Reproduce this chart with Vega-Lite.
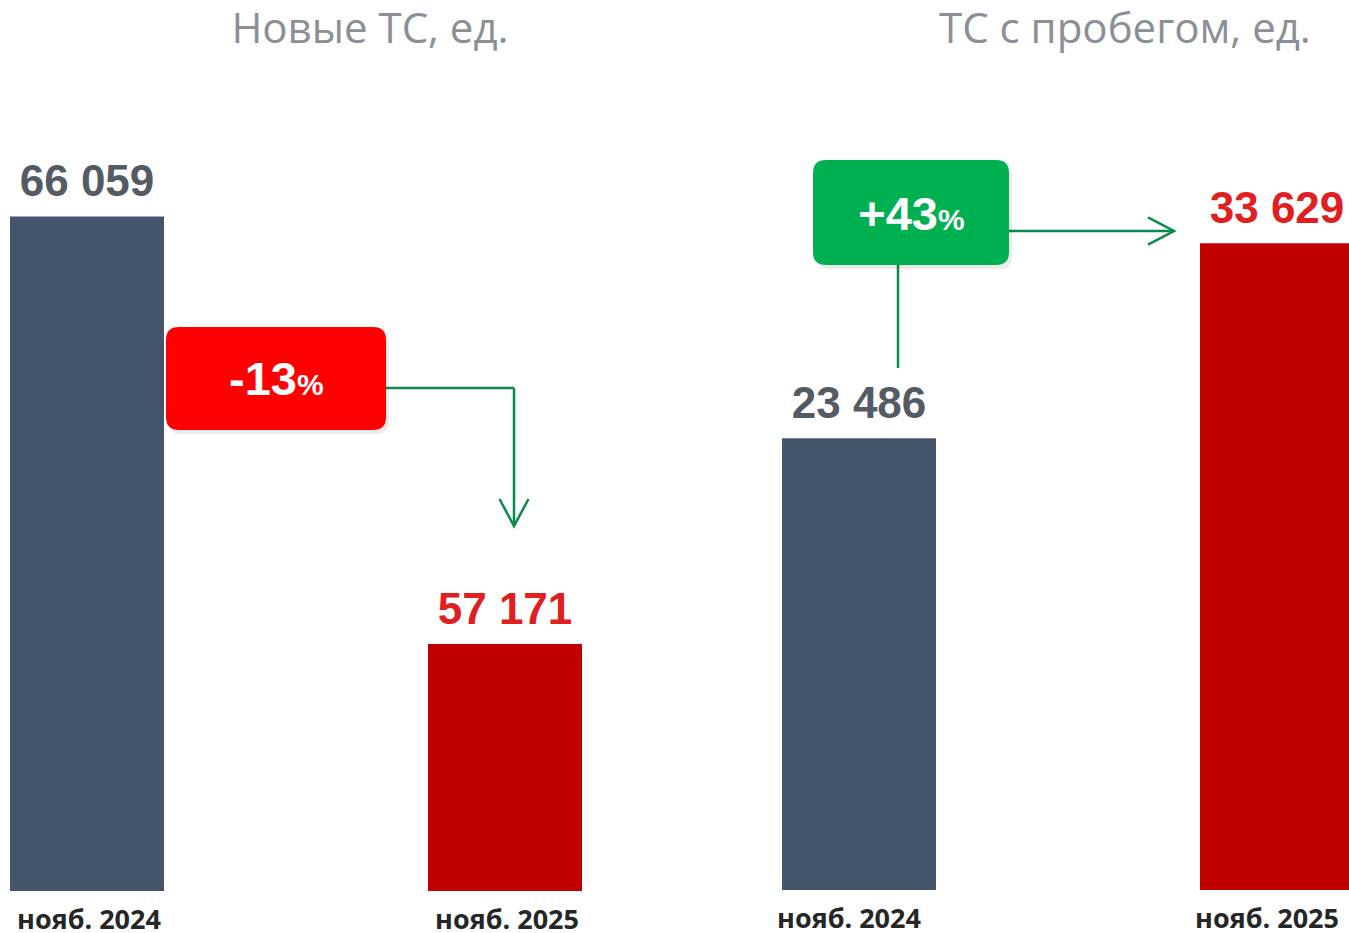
{
  "$schema": "https://vega.github.io/schema/vega-lite/v6.json",
  "background": "#ffffff",
  "padding": {"left": 0, "top": 9, "right": 0, "bottom": 0},
  "spacing": 180,
  "bounds": "flush",
  "config": {
    "locale": {"number": {"decimal": ",", "thousands": " ", "grouping": [3], "currency": ["", ""], "minus": "-"}},
    "view": {"stroke": null, "fill": "#ffffff"},
    "title": {"font": "Open Sans", "fontSize": 42, "fontWeight": "normal", "color": "#8b9096", "offset": 49, "anchor": "middle"},
    "axisX": {"domain": false, "ticks": false, "grid": false, "labelAngle": 0, "labelFont": "Open Sans", "labelFontWeight": "bold", "labelFontSize": 27, "labelColor": "#262626", "labelPadding": 16}
  },
  "datasets": {
    "newcars": [
      {"month": "нояб. 2024", "value": 66059},
      {"month": "нояб. 2025", "value": 57171}
    ],
    "used": [
      {"month": "нояб. 2024", "value": 23486},
      {"month": "нояб. 2025", "value": 33629}
    ],
    "chgNew": [{"pct": -13}],
    "chgUsed": [{"pct": 43}]
  },
  "hconcat": [
    {
      "width": 592,
      "height": 790,
      "title": {"text": "Новые ТС, ед.", "dx": 74},
      "layer": [
        {
          "data": {"name": "newcars"},
          "mark": {"type": "bar"},
          "encoding": {
            "x": {"field": "month", "type": "nominal", "sort": null, "title": null, "scale": {"range": [10, 582], "paddingInner": 0.6316, "paddingOuter": 0}, "axis": {"title": null, "labelOffset": 2}},
            "y": {"field": "value", "type": "quantitative", "scale": {"domain": [52036, 68460], "zero": false, "nice": false}, "axis": null},
            "y2": {"datum": 52036},
            "color": {"condition": {"test": "datum.month === 'нояб. 2025'", "value": "#c00000"}, "value": "#44546a"}
          }
        },
        {
          "data": {"name": "newcars"},
          "mark": {"type": "text", "font": "Liberation Sans", "fontWeight": "bold", "fontSize": 44, "baseline": "alphabetic", "dy": -20},
          "encoding": {
            "x": {"field": "month", "type": "nominal", "sort": null, "title": null},
            "y": {"field": "value", "type": "quantitative", "axis": null},
            "text": {"field": "value", "type": "quantitative", "format": ",d"},
            "color": {"condition": {"test": "datum.month === 'нояб. 2025'", "value": "#e0201f"}, "value": "#545b64"}
          }
        },
        {
          "data": {"name": "chgNew"},
          "mark": {"type": "rule", "color": "#0a8a4a", "strokeWidth": 2.5, "xOffset": 299, "x2Offset": 9},
          "encoding": {
            "x": {"datum": "нояб. 2024", "type": "nominal", "title": null},
            "x2": {"datum": "нояб. 2025"},
            "y": {"datum": 62493, "type": "quantitative", "axis": null}
          }
        },
        {
          "data": {"name": "chgNew"},
          "mark": {"type": "rule", "color": "#0a8a4a", "strokeWidth": 2.5, "xOffset": 9},
          "encoding": {
            "x": {"datum": "нояб. 2025", "type": "nominal", "title": null},
            "y": {"datum": 62493, "type": "quantitative", "axis": null},
            "y2": {"datum": 59645}
          }
        },
        {
          "data": {"name": "chgNew"},
          "mark": {"type": "point", "shape": "M -0.537,-1 L 0,0 L 0.537,-1", "size": 2916, "filled": false, "color": "#0a8a4a", "strokeWidth": 2.5, "opacity": 1, "xOffset": 9},
          "encoding": {
            "x": {"datum": "нояб. 2025", "type": "nominal", "title": null},
            "y": {"datum": 59624, "type": "quantitative", "axis": null}
          }
        },
        {
          "data": {"name": "chgNew"},
          "mark": {"type": "point", "shape": "M -0.8818,-0.4682 L 0.8818,-0.4682 Q 1,-0.4682 1,-0.35 L 1,0.35 Q 1,0.4682 0.8818,0.4682 L -0.8818,0.4682 Q -1,0.4682 -1,0.35 L -1,-0.35 Q -1,-0.4682 -0.8818,-0.4682 Z", "size": 48400, "filled": true, "color": "#000000", "opacity": 0.08, "strokeWidth": 0, "xOffset": 192, "yOffset": 4},
          "encoding": {
            "x": {"datum": "нояб. 2024", "type": "nominal", "title": null},
            "y": {"datum": 62691, "type": "quantitative", "axis": null}
          }
        },
        {
          "data": {"name": "chgNew"},
          "mark": {"type": "point", "shape": "M -0.8818,-0.4682 L 0.8818,-0.4682 Q 1,-0.4682 1,-0.35 L 1,0.35 Q 1,0.4682 0.8818,0.4682 L -0.8818,0.4682 Q -1,0.4682 -1,0.35 L -1,-0.35 Q -1,-0.4682 -0.8818,-0.4682 Z", "size": 48400, "filled": true, "color": "#ff0000", "opacity": 1, "strokeWidth": 0, "xOffset": 189},
          "encoding": {
            "x": {"datum": "нояб. 2024", "type": "nominal", "title": null},
            "y": {"datum": 62691, "type": "quantitative", "axis": null}
          }
        },
        {
          "data": {"name": "chgNew"},
          "mark": {"type": "text", "font": "Liberation Sans", "fontWeight": "bold", "fontSize": 47, "color": "#ffffff", "align": "right", "baseline": "alphabetic", "dx": 210, "dy": 16.5},
          "encoding": {
            "x": {"datum": "нояб. 2024", "type": "nominal", "title": null},
            "y": {"datum": 62691, "type": "quantitative", "axis": null},
            "text": {"field": "pct", "type": "quantitative", "format": "+d"}
          }
        },
        {
          "data": {"name": "chgNew"},
          "mark": {"type": "text", "font": "Liberation Sans", "fontWeight": "bold", "fontSize": 30, "color": "#ffffff", "align": "left", "baseline": "alphabetic", "dx": 210, "dy": 16.5},
          "encoding": {
            "x": {"datum": "нояб. 2024", "type": "nominal", "title": null},
            "y": {"datum": 62691, "type": "quantitative", "axis": null},
            "text": {"value": "%"}
          }
        }
      ]
    },
    {
      "width": 577,
      "height": 789,
      "title": {"text": "ТС с пробегом, ед.", "dx": 64.5},
      "layer": [
        {
          "data": {"name": "used"},
          "mark": {"type": "bar", "clip": true},
          "encoding": {
            "x": {"field": "month", "type": "nominal", "sort": null, "title": null, "scale": {"range": [10, 582], "paddingInner": 0.6316, "paddingOuter": 0}, "axis": {"title": null, "labelOffset": -10}},
            "y": {"field": "value", "type": "quantitative", "scale": {"domain": [0, 41028], "zero": false, "nice": false}, "axis": null},
            "color": {"condition": {"test": "datum.month === 'нояб. 2025'", "value": "#c00000"}, "value": "#44546a"}
          }
        },
        {
          "data": {"name": "used"},
          "mark": {"type": "text", "font": "Liberation Sans", "fontWeight": "bold", "fontSize": 44, "baseline": "alphabetic", "dy": -20},
          "encoding": {
            "x": {"field": "month", "type": "nominal", "sort": null, "title": null},
            "y": {"field": "value", "type": "quantitative", "axis": null},
            "text": {"field": "value", "type": "quantitative", "format": ",d"},
            "color": {"condition": {"test": "datum.month === 'нояб. 2025'", "value": "#e0201f"}, "value": "#545b64"}
          }
        },
        {
          "data": {"name": "chgUsed"},
          "mark": {"type": "rule", "color": "#0a8a4a", "strokeWidth": 2.5, "xOffset": 150, "x2Offset": -103},
          "encoding": {
            "x": {"datum": "нояб. 2024", "type": "nominal", "title": null},
            "x2": {"datum": "нояб. 2025"},
            "y": {"datum": 34268, "type": "quantitative", "axis": null}
          }
        },
        {
          "data": {"name": "chgUsed"},
          "mark": {"type": "rule", "color": "#0a8a4a", "strokeWidth": 2.5, "xOffset": 39},
          "encoding": {
            "x": {"datum": "нояб. 2024", "type": "nominal", "title": null},
            "y": {"datum": 32500, "type": "quantitative", "axis": null},
            "y2": {"datum": 27144}
          }
        },
        {
          "data": {"name": "chgUsed"},
          "mark": {"type": "point", "shape": "M -1,-0.52 L 0,0 L -1,0.52", "size": 2704, "filled": false, "color": "#0a8a4a", "strokeWidth": 2.5, "opacity": 1, "xOffset": -103},
          "encoding": {
            "x": {"datum": "нояб. 2025", "type": "nominal", "title": null},
            "y": {"datum": 34268, "type": "quantitative", "axis": null}
          }
        },
        {
          "data": {"name": "chgUsed"},
          "mark": {"type": "point", "shape": "M -0.8673,-0.5357 L 0.8673,-0.5357 Q 1,-0.5357 1,-0.4031 L 1,0.4031 Q 1,0.5357 0.8673,0.5357 L -0.8673,0.5357 Q -1,0.5357 -1,0.4031 L -1,-0.4031 Q -1,-0.5357 -0.8673,-0.5357 Z", "size": 38416, "filled": true, "color": "#000000", "opacity": 0.08, "strokeWidth": 0, "xOffset": 55, "yOffset": 4},
          "encoding": {
            "x": {"datum": "нояб. 2024", "type": "nominal", "title": null},
            "y": {"datum": 35230, "type": "quantitative", "axis": null}
          }
        },
        {
          "data": {"name": "chgUsed"},
          "mark": {"type": "point", "shape": "M -0.8673,-0.5357 L 0.8673,-0.5357 Q 1,-0.5357 1,-0.4031 L 1,0.4031 Q 1,0.5357 0.8673,0.5357 L -0.8673,0.5357 Q -1,0.5357 -1,0.4031 L -1,-0.4031 Q -1,-0.5357 -0.8673,-0.5357 Z", "size": 38416, "filled": true, "color": "#00b050", "opacity": 1, "strokeWidth": 0, "xOffset": 52},
          "encoding": {
            "x": {"datum": "нояб. 2024", "type": "nominal", "title": null},
            "y": {"datum": 35230, "type": "quantitative", "axis": null}
          }
        },
        {
          "data": {"name": "chgUsed"},
          "mark": {"type": "text", "font": "Liberation Sans", "fontWeight": "bold", "fontSize": 47, "color": "#ffffff", "align": "right", "baseline": "alphabetic", "dx": 79, "dy": 17.5},
          "encoding": {
            "x": {"datum": "нояб. 2024", "type": "nominal", "title": null},
            "y": {"datum": 35230, "type": "quantitative", "axis": null},
            "text": {"field": "pct", "type": "quantitative", "format": "+d"}
          }
        },
        {
          "data": {"name": "chgUsed"},
          "mark": {"type": "text", "font": "Liberation Sans", "fontWeight": "bold", "fontSize": 30, "color": "#ffffff", "align": "left", "baseline": "alphabetic", "dx": 79, "dy": 17.5},
          "encoding": {
            "x": {"datum": "нояб. 2024", "type": "nominal", "title": null},
            "y": {"datum": 35230, "type": "quantitative", "axis": null},
            "text": {"value": "%"}
          }
        }
      ]
    }
  ]
}
